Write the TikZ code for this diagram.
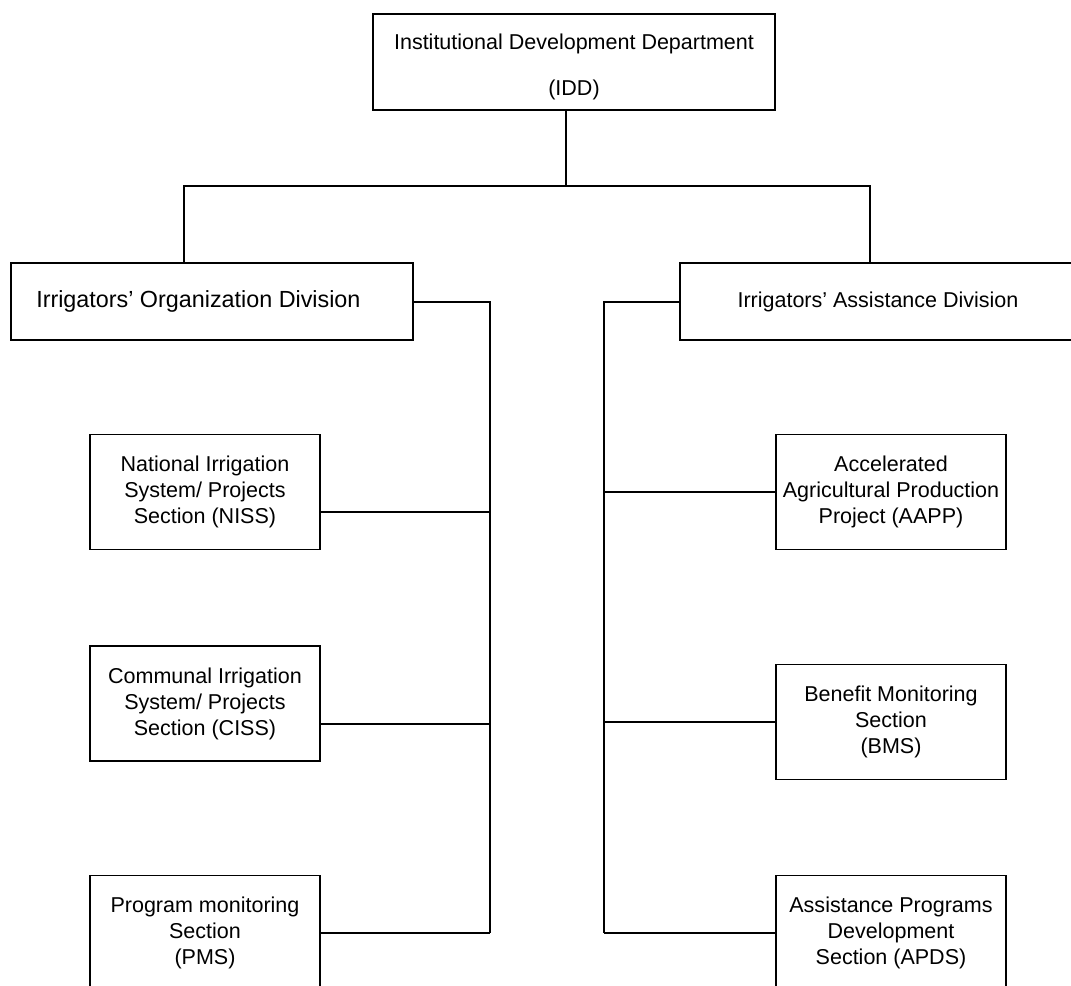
\documentclass[tikz,border=0pt]{standalone}
\usepackage{fontspec}
\setmainfont{Liberation Sans}
\usetikzlibrary{calc}

\begin{document}
\begin{tikzpicture}[line width=1.3pt,font=\fontsize{15.3}{18.5}\selectfont,
  dept/.style={draw,minimum width=10.05cm,minimum height=2.40cm,align=center},
  divbox/.style={draw,minimum width=10.05cm,minimum height=1.93cm},
  sectbox/.style={draw,minimum width=5.75cm,minimum height=2.875cm,align=center,inner sep=2pt}]
\useasboundingbox (0,0) rectangle (26.775,24.65);
\node[dept] (idd) at (14.35,23.10) {\rule{0pt}{18.3pt}Institutional Development Department\\[14pt](IDD)};
\node[divbox,font=\fontsize{16.6}{20}\selectfont] (iod) at (5.30,17.11) {Irrigators' Organization Division\hspace*{0.68cm}};
\node[divbox,minimum width=9.90cm] (iad) at (21.95,17.11) {Irrigators' Assistance Division};
\node[sectbox] (niss) at (5.125,12.35) {National Irrigation\\System/ Projects\\Section (NISS)};
\node[sectbox] (ciss) at (5.125,7.06) {Communal Irrigation\\System/ Projects\\Section (CISS)};
\node[sectbox] (pms) at (5.125,1.325) {Program monitoring\\Section\\(PMS)};
\node[sectbox] (aapp) at (22.275,12.35) {Accelerated\\Agricultural Production\\Project (AAPP)};
\node[sectbox] (bms) at (22.275,6.60) {Benefit Monitoring\\Section\\(BMS)};
\node[sectbox] (apds) at (22.275,1.325) {Assistance Programs\\Development\\Section (APDS)};
\coordinate (jn) at (14.15,20.01); \coordinate (bl) at (4.60,20.01); \coordinate (br) at (21.75,20.01);
\coordinate (ls) at (12.25,1.325); \coordinate (rs) at (15.10,1.325);
\draw (idd.south -| jn) -- (jn);
\draw (iod.north -| bl) -- (bl) -- (br) -- (iad.north -| br);
\draw (iod.east) -| (ls); \draw (iad.west) -| (rs);
\draw ([yshift=-0.5cm]niss.east) -- ([yshift=-0.5cm]niss.east -| ls);
\draw ([yshift=-0.5cm]ciss.east) -- ([yshift=-0.5cm]ciss.east -| ls);
\draw (pms.east) -- (ls);
\draw (aapp.west) -- (aapp.west -| rs); \draw (bms.west) -- (bms.west -| rs); \draw (apds.west) -- (rs);
\end{tikzpicture}
\end{document}
